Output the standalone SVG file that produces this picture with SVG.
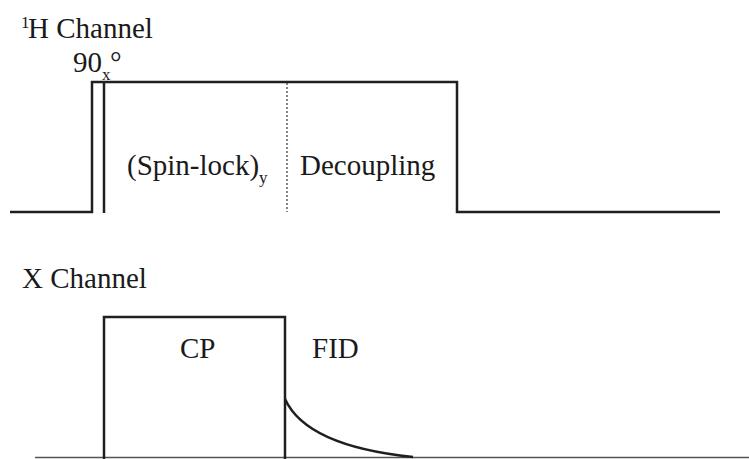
<svg xmlns="http://www.w3.org/2000/svg" width="749" height="459" viewBox="0 0 749 459">
<style>
.t{font-family:"Liberation Serif","Times New Roman",serif;font-size:29px;fill:#1a1a1a}
.s{font-size:17px}
.ln{fill:none;stroke:#1f1f1f;stroke-width:2.5}
</style>
<rect width="749" height="459" fill="#fff"/>
<g id="labels">
<text class="t s" x="21" y="28">1</text>
<text class="t" x="28" y="38">H Channel</text>
<text class="t" x="73" y="72">90</text>
<text class="t s" x="102" y="80">x</text>
<text class="t" x="110" y="72">°</text>
<text class="t" x="22" y="288">X Channel</text>
</g>
<g id="h-channel">
<path class="ln" d="M10,212 H92 V82 H457 V212 H720"/>
<line class="ln" x1="104" y1="82" x2="104" y2="213"/>
<line x1="287" y1="83" x2="287" y2="212" stroke="#333" stroke-width="1.2" stroke-dasharray="2,2"/>
<text class="t" x="127" y="175">(Spin-lock)</text>
<text class="t s" x="259" y="183">y</text>
<text class="t" x="300" y="175">Decoupling</text>
</g>
<g id="x-channel">
<line x1="35" y1="457.5" x2="749" y2="457.5" stroke="#555" stroke-width="1.5"/>
<path class="ln" d="M104,459 V317 H285 V459"/>
<path class="ln" d="M285,399 C300,432 345,450 413,457"/>
<text class="t" x="180" y="358">CP</text>
<text class="t" x="312" y="358">FID</text>
</g>
</svg>
